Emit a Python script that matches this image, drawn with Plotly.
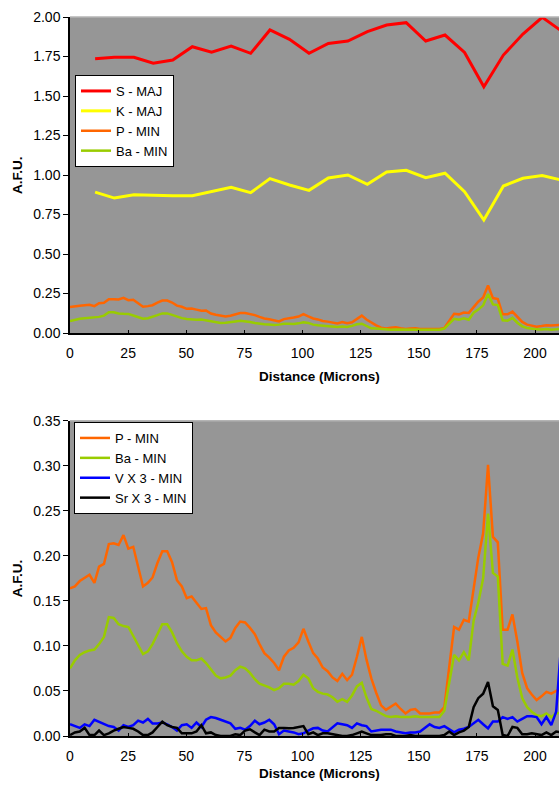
import plotly.graph_objects as go

# ---------------- data ----------------
# coarse sampling (major elements), microns
dist_major = [10.8, 19.1, 27.5, 35.8, 44.2, 52.6, 60.9, 69.3, 77.7, 86.0, 94.4, 102.8,
              111.1, 119.5, 127.9, 136.2, 144.6, 153.0, 161.3, 169.7, 178.0, 186.4,
              194.8, 203.1, 211.5]
s_maj = [1.736, 1.745, 1.745, 1.707, 1.728, 1.812, 1.778, 1.816, 1.770, 1.918, 1.859,
         1.770, 1.833, 1.848, 1.907, 1.949, 1.964, 1.848, 1.886, 1.776, 1.559, 1.759,
         1.892, 1.998, 1.910]
k_maj = [0.892, 0.854, 0.875, 0.871, 0.869, 0.869, 0.897, 0.922, 0.888, 0.977, 0.937,
         0.903, 0.981, 1.000, 0.941, 1.019, 1.030, 0.983, 1.011, 0.894, 0.715, 0.930,
         0.979, 0.996, 0.968]

# fine sampling (minor elements), microns
dist_minor = [0.0, 2.1, 4.2, 6.3, 8.4, 10.5, 12.5, 14.6, 16.7, 18.8, 20.9, 23.0, 25.1,
              27.2, 29.3, 31.4, 33.5, 35.5, 37.6, 39.7, 41.8, 43.9, 46.0, 48.1, 50.2,
              52.3, 54.4, 56.5, 58.5, 60.6, 62.7, 64.8, 66.9, 69.0, 71.1, 73.2, 75.3,
              77.4, 79.5, 81.5, 83.6, 85.7, 87.8, 89.9, 92.0, 94.1, 96.2, 98.3, 100.4,
              102.5, 104.6, 106.6, 108.7, 110.8, 112.9, 115.0, 117.1, 119.2, 121.3,
              123.4, 125.5, 127.5, 129.6, 131.7, 133.8, 135.9, 138.0, 140.1, 142.2,
              144.3, 146.4, 148.5, 150.6, 152.6, 154.7, 156.8, 158.9, 161.0, 163.1,
              165.2, 167.3, 169.4, 171.5, 173.6, 175.6, 177.7, 179.8, 181.9, 184.0,
              186.1, 188.2, 190.3, 192.4, 194.5, 196.6, 198.6, 200.7, 202.8, 204.9,
              207.0, 209.1, 211.2]
p_min = [0.164, 0.166, 0.172, 0.176, 0.179, 0.170, 0.188, 0.191, 0.213, 0.214, 0.212,
         0.223, 0.208, 0.210, 0.188, 0.166, 0.170, 0.176, 0.192, 0.205, 0.205, 0.193,
         0.173, 0.166, 0.153, 0.155, 0.148, 0.141, 0.142, 0.123, 0.115, 0.110, 0.105,
         0.109, 0.120, 0.127, 0.126, 0.120, 0.113, 0.102, 0.092, 0.087, 0.081, 0.073,
         0.088, 0.095, 0.098, 0.104, 0.119, 0.105, 0.092, 0.086, 0.076, 0.072, 0.065,
         0.061, 0.069, 0.062, 0.068, 0.088, 0.110, 0.085, 0.064, 0.048, 0.034, 0.029,
         0.033, 0.036, 0.030, 0.025, 0.029, 0.030, 0.025, 0.025, 0.025, 0.026, 0.026,
         0.032, 0.075, 0.121, 0.118, 0.129, 0.127, 0.165, 0.198, 0.225, 0.301, 0.221,
         0.215, 0.118, 0.118, 0.135, 0.105, 0.070, 0.053, 0.046, 0.040, 0.044, 0.049,
         0.047, 0.050, 0.052]
ba_min = [0.075, 0.084, 0.090, 0.093, 0.095, 0.096, 0.102, 0.110, 0.132, 0.131, 0.124,
          0.122, 0.121, 0.111, 0.100, 0.091, 0.094, 0.102, 0.113, 0.124, 0.124, 0.115,
          0.103, 0.094, 0.088, 0.084, 0.084, 0.086, 0.081, 0.074, 0.067, 0.064, 0.065,
          0.067, 0.073, 0.077, 0.075, 0.070, 0.063, 0.058, 0.056, 0.054, 0.051, 0.053,
          0.058, 0.058, 0.057, 0.061, 0.068, 0.064, 0.053, 0.049, 0.047, 0.046, 0.043,
          0.038, 0.041, 0.038, 0.045, 0.055, 0.059, 0.043, 0.030, 0.028, 0.025, 0.022,
          0.021, 0.022, 0.021, 0.021, 0.021, 0.022, 0.021, 0.021, 0.021, 0.021, 0.021,
          0.028, 0.060, 0.090, 0.084, 0.093, 0.084, 0.128, 0.148, 0.175, 0.247, 0.181,
          0.177, 0.080, 0.078, 0.096, 0.065, 0.042, 0.032, 0.027, 0.023, 0.022, 0.025,
          0.021, 0.025, 0.026]
v_x3 = [0.013, 0.011, 0.009, 0.013, 0.011, 0.018, 0.016, 0.013, 0.011, 0.010, 0.006,
        0.012, 0.010, 0.012, 0.017, 0.015, 0.019, 0.014, 0.014, 0.015, 0.013, 0.010,
        0.006, 0.012, 0.013, 0.009, 0.015, 0.010, 0.018, 0.021, 0.020, 0.018, 0.016,
        0.014, 0.008, 0.009, 0.007, 0.011, 0.017, 0.013, 0.015, 0.018, 0.013, 0.002,
        0.006, 0.005, 0.004, 0.002, 0.003, 0.006, 0.0085, 0.009, 0.006, 0.005, 0.009,
        0.014, 0.013, 0.012, 0.009, 0.014, 0.012, 0.011, 0.005, 0.006, 0.007, 0.007,
        0.007, 0.005, 0.004, 0.003, 0.004, 0.004, 0.005, 0.009, 0.013, 0.010, 0.009,
        0.011, 0.007, 0.004, 0.007, 0.008, 0.010, 0.014, 0.018, 0.013, 0.0085, 0.016,
        0.016, 0.021, 0.019, 0.021, 0.016, 0.019, 0.022, 0.022, 0.021, 0.013, 0.021,
        0.012, 0.027, 0.100]
sr_x3 = [0.001, 0.004, 0.005, 0.009, 0.001, 0.001, 0.006, 0.001, 0.003, 0.006, 0.008,
         0.010, 0.009, 0.008, 0.005, 0.001, 0.001, 0.004, 0.010, 0.016, 0.012, 0.010,
         0.009, 0.003, 0.003, 0.003, 0.005, 0.012, 0.003, 0.004, 0.001, 0.000, 0.000,
         0.000, 0.002, 0.001, 0.006, 0.0075, 0.004, 0.001, 0.007, 0.005, 0.005, 0.009,
         0.009, 0.0085, 0.009, 0.010, 0.011, 0.002, 0.004, 0.001, 0.003, 0.003, 0.002,
         0.001, 0.000, 0.000, 0.001, 0.003, 0.005, 0.003, 0.001, 0.001, 0.001, 0.002,
         0.002, 0.000, 0.000, 0.000, 0.001, 0.000, 0.000, 0.000, 0.000, 0.000, 0.000,
         0.001, 0.005, 0.001, 0.004, 0.006, 0.010, 0.032, 0.042, 0.047, 0.060, 0.033,
         0.029, 0.001, 0.000, 0.010, 0.009, 0.002, 0.002, 0.003, 0.002, 0.001, 0.004,
         0.001, 0.005, 0.004]

x_ticks = [0, 25, 50, 75, 100, 125, 150, 175, 200]

# ---------------- figure ----------------
FONT = "Liberation Sans, Arial, sans-serif"
W, H, L = 559, 786, 70
PW = W - L

RED, YEL, ORG, GRN, BLU, BLK = "#FF0000", "#FFFF00", "#FF6600", "#99CC00", "#0000FF", "#000000"

fig = go.Figure()

top = [("S - MAJ", dist_major, s_maj, RED, 3),
       ("K - MAJ", dist_major, k_maj, YEL, 3),
       ("P - MIN", dist_minor, p_min, ORG, 2.5),
       ("Ba - MIN", dist_minor, ba_min, GRN, 2.5)]
for name, xs, ys, c, w in top:
    fig.add_trace(go.Scatter(x=xs, y=ys, name=name, mode="lines",
                             line=dict(color=c, width=w), xaxis="x", yaxis="y",
                             legend="legend"))

bottom = [("P - MIN", p_min, ORG, 2.5),
          ("Ba - MIN", ba_min, GRN, 2.5),
          ("V X 3 - MIN", v_x3, BLU, 2.5),
          ("Sr X 3 - MIN", sr_x3, BLK, 2.5)]
for name, ys, c, w in bottom:
    fig.add_trace(go.Scatter(x=dist_minor, y=ys, name=name, mode="lines",
                             line=dict(color=c, width=w), xaxis="x2", yaxis="y2",
                             legend="legend2"))

def py(px):
    return 1 - px / H

top_dom = [py(333), py(17)]
bot_dom = [py(736), py(420.7)]
xr = [0, PW / 2.325]

TICKF = dict(size=14, color="black", family=FONT)
xcommon = dict(range=xr, tickvals=x_ticks, ticks="inside", ticklen=3, tickcolor="black",
               showline=True, linecolor="black", linewidth=1.5, showgrid=False,
               zeroline=False, tickfont=TICKF,
               ticklabelstandoff=6, automargin=False, fixedrange=True)
ycommon = dict(ticks="outside", ticklen=5, tickcolor="black", showline=True,
               linecolor="black", linewidth=1.5, showgrid=False, zeroline=False,
               tickformat=".2f", tickfont=TICKF,
               automargin=False, fixedrange=True)

legcommon = dict(xanchor="left", yanchor="top", bgcolor="white", bordercolor="black",
                 borderwidth=1, font=dict(size=13, color="black", family=FONT),
                 tracegroupgap=0, itemclick=False, itemdoubleclick=False,
                 entrywidth=75)

fig.update_layout(
    width=W, height=H,
    margin=dict(l=L, r=0, t=0, b=0),
    paper_bgcolor="white", plot_bgcolor="#969696",
    font=dict(family=FONT, color="black", size=13.5),
    xaxis=dict(domain=[0, 1], anchor="y", **xcommon),
    yaxis=dict(domain=top_dom, anchor="x", range=[0, 2], dtick=0.25, **ycommon),
    xaxis2=dict(domain=[0, 1], anchor="y2", **xcommon),
    yaxis2=dict(domain=bot_dom, anchor="x2", range=[0, 0.35], dtick=0.05, **ycommon),
    legend=dict(x=5 / PW, y=py(75), **legcommon),
    legend2=dict(x=4 / PW, y=py(422), **legcommon),
    shapes=[
        dict(type="line", xref="paper", yref="paper", x0=0, x1=1, y0=top_dom[1],
             y1=top_dom[1], line=dict(color="#B4B4B4", width=1.5)),
        dict(type="line", xref="paper", yref="paper", x0=0, x1=1, y0=bot_dom[1],
             y1=bot_dom[1], line=dict(color="#B4B4B4", width=1.5)),
    ],
    annotations=[
        dict(text="<b>A.F.U.</b>", xref="paper", yref="paper", x=(17 - L) / PW,
             y=(top_dom[0] + top_dom[1]) / 2, textangle=-90, showarrow=False,
             xanchor="center", yanchor="middle", font=dict(size=13.5)),
        dict(text="<b>A.F.U.</b>", xref="paper", yref="paper", x=(17 - L) / PW,
             y=(bot_dom[0] + bot_dom[1]) / 2, textangle=-90, showarrow=False,
             xanchor="center", yanchor="middle", font=dict(size=13.5)),
        dict(text="<b>Distance (Microns)</b>", xref="paper", yref="paper",
             x=(319.5 - L) / PW, y=py(376), showarrow=False, xanchor="center",
             yanchor="middle", font=dict(size=13.5)),
        dict(text="<b>Distance (Microns)</b>", xref="paper", yref="paper",
             x=(319.5 - L) / PW, y=py(773), showarrow=False, xanchor="center",
             yanchor="middle", font=dict(size=13.5)),
    ],
    showlegend=True,
)

fig.write_html("out.html", config={"displayModeBar": False},
               post_script="document.body.style.margin='0';"
                           "document.body.style.overflow='hidden';")
